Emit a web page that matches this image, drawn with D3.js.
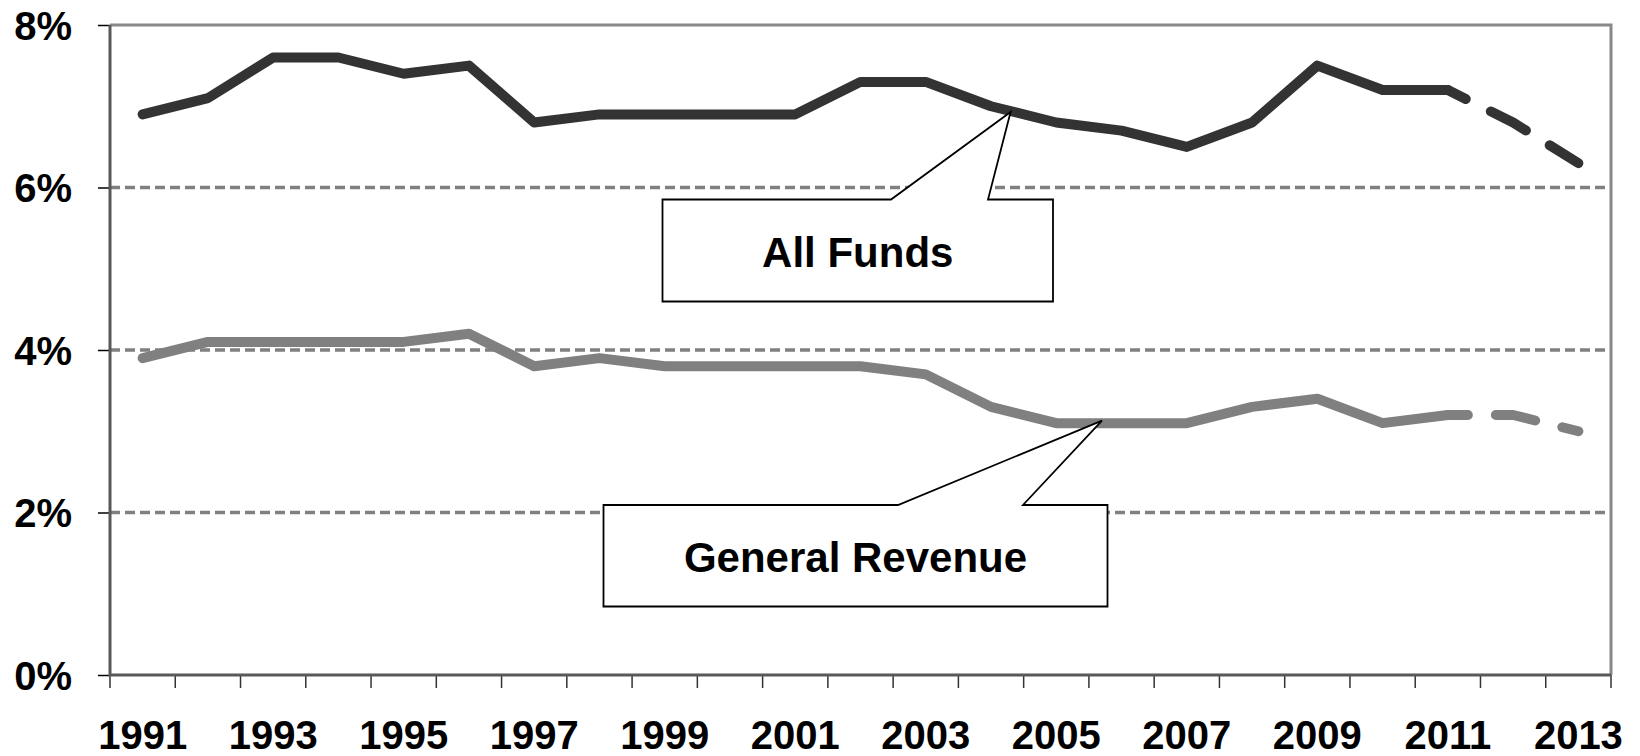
<!DOCTYPE html>
<html>
<head>
<meta charset="utf-8">
<script src="https://cdn.jsdelivr.net/npm/d3@7"></script>
<style>
  body { margin: 0; background: #fff; }
  svg { display: block; }
  text { font-family: "Liberation Sans", Arial, sans-serif; font-weight: bold; fill: #000; }
</style>
</head>
<body>
<svg id="chart" width="1640" height="756"></svg>
<script>
// values (percent)
const years = ['1991', '1992', '1993', '1994', '1995', '1996', '1997', '1998', '1999', '2000', '2001', '2002',
  '2003', '2004', '2005', '2006', '2007', '2008', '2009', '2010', '2011', '2012', '2013'];
const allFunds = [6.9, 7.1, 7.6, 7.6, 7.4, 7.5, 6.8, 6.9, 6.9, 6.9, 6.9, 7.3,
  7.3, 7.0, 6.8, 6.7, 6.5, 6.8, 7.5, 7.2, 7.2, 6.8, 6.3];
const generalRevenue = [3.9, 4.1, 4.1, 4.1, 4.1, 4.2, 3.8, 3.9, 3.8, 3.8, 3.8, 3.8,
  3.7, 3.3, 3.1, 3.1, 3.1, 3.3, 3.4, 3.1, 3.2, 3.2, 3.0];
const yTicks = [0, 2, 4, 6, 8];
const xTickLabels = ['1991', '1993', '1995', '1997', '1999', '2001', '2003', '2005', '2007', '2009', '2011', '2013'];
const projectedFrom = '2011';
const seriesNames = ['All Funds', 'General Revenue'];
// where each callout points: fractional year index and value
const calloutTipIndex = [13.3, 14.7];
const calloutTipValue = [6.93, 3.13];

const svg = d3.select('#chart'),
  margin = { top: 25, right: 29, bottom: 81, left: 110 },
  width = +svg.attr('width') - margin.left - margin.right,
  height = +svg.attr('height') - margin.top - margin.bottom,
  g = svg.append('g').attr('transform', 'translate(' + margin.left + ',' + margin.top + ')');

const x = d3.scaleBand().domain(years).range([0, width]);
const y = d3.scaleLinear().domain([0, 8]).range([height, 0]);
const xAt = (i) => (i + 0.5) * x.step();

// dashed gridlines
g.append('g')
  .selectAll('line')
  .data(yTicks.filter(t => t > 0 && t < 8))
  .enter().append('line')
  .attr('x1', 0).attr('x2', width)
  .attr('y1', d => y(d)).attr('y2', d => y(d))
  .attr('stroke', '#808080')
  .attr('stroke-width', 3.5)
  .attr('stroke-dasharray', '10,5');

// plot area border (top / right)
g.append('path')
  .attr('d', 'M0,' + y(8) + 'H' + width + 'V' + height)
  .attr('fill', 'none')
  .attr('stroke', '#888')
  .attr('stroke-width', 3);

const line = d3.line()
  .x(d => x(d.year) + x.bandwidth() / 2)
  .y(d => y(d.value));

const series = [
  { values: allFunds, color: '#333333' },
  { values: generalRevenue, color: '#808080' }
];
const cut = years.indexOf(projectedFrom);

series.forEach(s => {
  const pts = years.map((yr, i) => ({ year: yr, value: s.values[i] }));
  g.append('path')
    .datum(pts.slice(0, cut + 1))
    .attr('fill', 'none')
    .attr('stroke', s.color)
    .attr('stroke-width', 10)
    .attr('stroke-linejoin', 'round')
    .attr('stroke-linecap', 'round')
    .attr('d', line);
  g.append('path')
    .datum(pts.slice(cut))
    .attr('fill', 'none')
    .attr('stroke', s.color)
    .attr('stroke-width', 10)
    .attr('stroke-linejoin', 'round')
    .attr('stroke-linecap', 'round')
    .attr('stroke-dasharray', '40,28')
    .attr('stroke-dashoffset', 20)
    .attr('d', line);
});

// callout boxes (box geometry in px, inside plot area)
const boxes = [
  { x0: 552.5, x1: 943, y0: 174.5, y1: 276.5, b0: 781, b1: 878, fy: 241.5 },
  { x0: 493.5, x1: 997.5, y0: 480, y1: 581.5, b0: 788, b1: 913, fy: 546.5 }
];
boxes.forEach((b, i) => {
  const tx = xAt(calloutTipIndex[i]), ty = y(calloutTipValue[i]);
  g.append('path')
    .attr('d', 'M' + b.x0 + ',' + b.y0 + 'H' + b.b0 + 'L' + tx + ',' + ty + 'L' + b.b1 + ',' + b.y0 +
      'H' + b.x1 + 'V' + b.y1 + 'H' + b.x0 + 'Z')
    .attr('fill', '#fff')
    .attr('stroke', '#000')
    .attr('stroke-width', 1.8)
    .attr('stroke-linejoin', 'miter');
  g.append('text')
    .attr('x', (b.x0 + b.x1) / 2)
    .attr('y', b.fy)
    .attr('text-anchor', 'middle')
    .attr('font-size', 42)
    .text(seriesNames[i]);
});

// y axis
const yAxis = g.append('g')
  .call(d3.axisLeft(y).tickValues(yTicks).tickSize(12).tickPadding(26).tickFormat(d => d + '%'));
yAxis.select('.domain').remove();
yAxis.selectAll('.tick line').attr('stroke', '#000').attr('stroke-width', 1.5);
yAxis.selectAll('.tick text').attr('font-size', 40).attr('font-family', null).attr('dy', '0.36em');

// x axis: ticks on category boundaries, labels every other year
g.append('g')
  .selectAll('line')
  .data(years.map(yr => x(yr)).concat([width]))
  .enter().append('line')
  .attr('x1', d => d).attr('x2', d => d)
  .attr('y1', height).attr('y2', height + 13)
  .attr('stroke', '#333')
  .attr('stroke-width', 1.5);

const xAxis = g.append('g')
  .attr('transform', 'translate(0,' + height + ')')
  .call(d3.axisBottom(x).tickValues(xTickLabels).tickSize(0).tickPadding(46));
xAxis.select('.domain').remove();
xAxis.selectAll('.tick text').attr('font-size', 40).attr('font-family', null);

// axis lines
g.append('path')
  .attr('d', 'M0,0V' + height + 'H' + width)
  .attr('fill', 'none')
  .attr('stroke', '#595959')
  .attr('stroke-width', 3);
</script>
</body>
</html>
